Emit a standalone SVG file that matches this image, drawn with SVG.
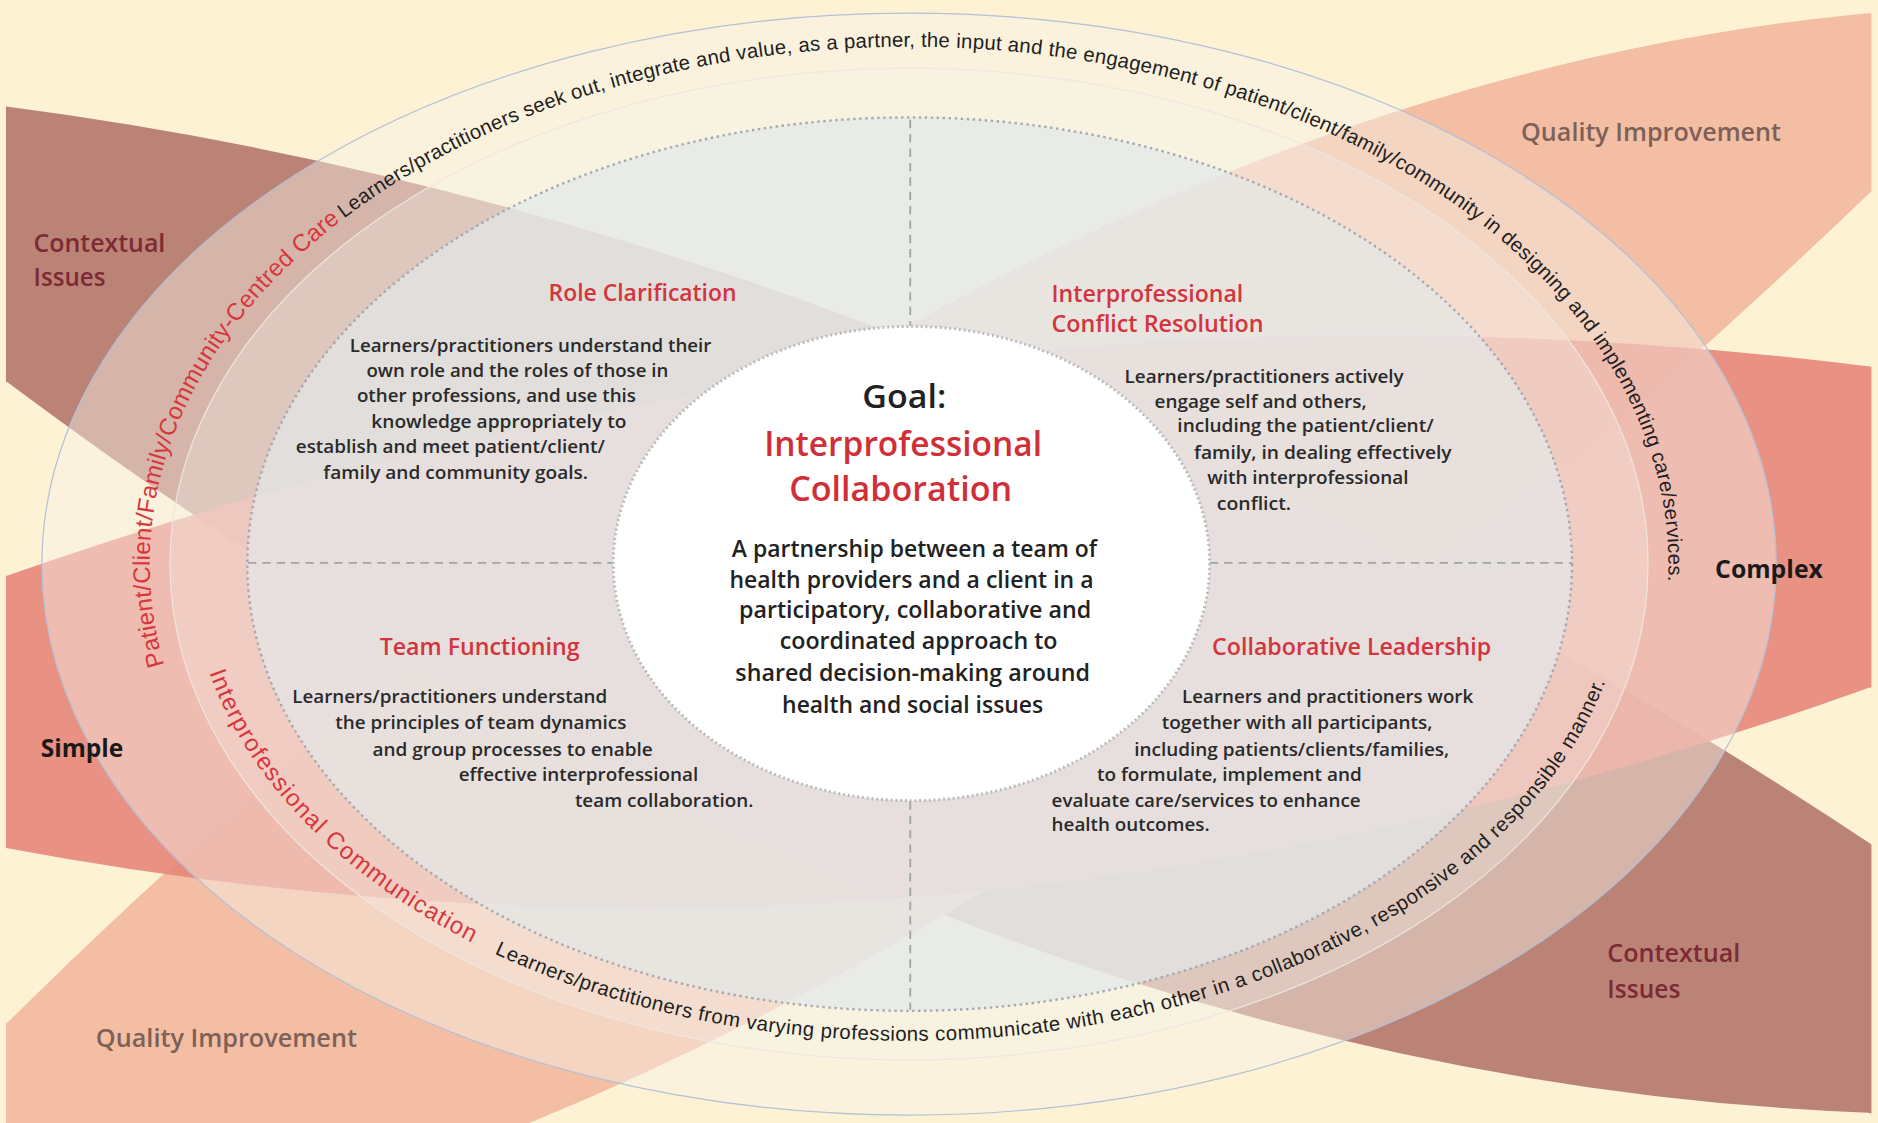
<svg xmlns="http://www.w3.org/2000/svg" width="1878" height="1123" viewBox="0 0 1878 1123">
<defs>
<style>
.bg{fill:#fdf3d4}
.brown{fill:#b67a6e;opacity:.93}
.salmon{fill:#f2b99f;opacity:.93}
.red{fill:#e7867a;opacity:.9}
.e1{fill:#f7f1e8;fill-opacity:.45;stroke:#b3c0d6;stroke-width:1}
.e2{fill:#f6f2ec;fill-opacity:.3;stroke:#efe6df;stroke-width:1}
.e4{fill:#e3e8ea;fill-opacity:.7;stroke:#a3a9b3;stroke-width:2;stroke-dasharray:2 3}
.e5{fill:#ffffff;stroke:#b8b8b8;stroke-width:2.5;stroke-dasharray:1.5 2.5}
.cross{stroke:#9fa4ab;stroke-width:1.5;stroke-dasharray:7 5;fill:none}
.lbl{font-family:'Open Sans','Liberation Sans',sans-serif;font-size:21px;font-weight:600}
.ctx{fill:#7c2a35}
.qi{fill:#7d6158}
.cx{fill:#1a1a1a;font-weight:bold}
.head{font-family:'Open Sans','Liberation Sans',sans-serif;font-size:19px;fill:#d4343c;font-weight:600}
.p{font-family:'Open Sans','Liberation Sans',sans-serif;font-size:15px;fill:#2a2a2a;font-weight:600}
.gp{font-family:'Open Sans','Liberation Sans',sans-serif;font-size:19px;fill:#222;font-weight:600}
.goal{font-family:'Open Sans','Liberation Sans',sans-serif;fill:#222;font-size:27px;font-weight:600}
.goalr{font-family:'Open Sans','Liberation Sans',sans-serif;fill:#d02f38;font-size:29px;font-weight:600}
.ringRed{font-family:'Liberation Sans',Arial,sans-serif;font-size:20px;fill:#d9353d}
.ringBlk{font-family:'Liberation Sans',Arial,sans-serif;font-size:17px;fill:#1e1e1e}
</style>
<clipPath id="clip"><rect x="5" y="0" width="1557.5" height="945"/></clipPath>
<path id="pcPath" d="M759,903 A634,432 0 0 1 759,39 A634,432 0 0 1 759,903"/>
<path id="icPath" d="M759,73 A600,398 0 0 0 759,869 A600,398 0 0 0 759,73"/>
</defs>
<rect class="bg" x="0" y="0" width="1878" height="1123"/>
<g transform="scale(1.1977)">
  <g id="bands" clip-path="url(#clip)">
    <path id="band-contextual" class="brown" d="M0,89 L5,89 Q786,190 1567,708 L1570,708 L1570,932 L1560,929 Q783,900 6,319 L0,319 Z"/>
    <path id="band-quality" class="salmon" d="M0,854 L6,854 Q782,85 1559,11 L1570,11 L1570,160 L1562,160 Q984,716 441,938 L441,945 L0,945 Z"/>
    <path id="band-complexity" class="red" d="M0,481 L5,481 Q783,208 1561,306 L1570,306 L1570,574 L1561,574 Q783,854 5,708 L0,708 Z"/>
  </g>

  <g id="rings">
    <ellipse id="ring-outer" class="e1" cx="759" cy="471" rx="724" ry="460"/>
    <ellipse id="ring-communication" class="e2" cx="759" cy="471" rx="617" ry="414"/>
    <ellipse id="domains" class="e4" cx="759.5" cy="471" rx="553" ry="373"/>
  </g>

  <g id="band-labels">
    <text class="lbl ctx" x="28" y="210" textLength="110" lengthAdjust="spacingAndGlyphs">Contextual</text>
    <text class="lbl ctx" x="28" y="239" textLength="60" lengthAdjust="spacingAndGlyphs">Issues</text>
    <text class="lbl qi" x="1270" y="118" textLength="217" lengthAdjust="spacingAndGlyphs">Quality Improvement</text>
    <text class="lbl cx" x="1432" y="483" textLength="90" lengthAdjust="spacingAndGlyphs">Complex</text>
    <text class="lbl cx" x="34" y="632" textLength="69" lengthAdjust="spacingAndGlyphs">Simple</text>
    <text class="lbl qi" x="80" y="874" textLength="218" lengthAdjust="spacingAndGlyphs">Quality Improvement</text>
    <text class="lbl ctx" x="1342" y="803" textLength="111" lengthAdjust="spacingAndGlyphs">Contextual</text>
    <text class="lbl ctx" x="1342" y="833" textLength="61" lengthAdjust="spacingAndGlyphs">Issues</text>
  </g>

  <g id="connectors">
    <line class="cross" x1="760" y1="100" x2="760" y2="272"/>
    <line class="cross" x1="760" y1="669" x2="760" y2="843"/>
    <line class="cross" x1="207" y1="470" x2="512" y2="470"/>
    <line class="cross" x1="1010" y1="470" x2="1312" y2="470"/>
  </g>

  <g id="ring-texts">
    <text class="ringRed" letter-spacing="0.2"><textPath href="#pcPath" startOffset="759">Patient/Client/Family/Community-Centred Care</textPath></text>
    <text class="ringBlk" letter-spacing="0.22"><textPath href="#pcPath" startOffset="1188">Learners/practitioners seek out, integrate and value, as a partner, the input and the engagement of patient/client/family/community in designing and implementing care/services.</textPath></text>
    <text class="ringRed" letter-spacing="1"><textPath href="#icPath" startOffset="884">Interprofessional Communication</textPath></text>
    <text class="ringBlk" letter-spacing="0.4"><textPath href="#icPath" startOffset="1227">Learners/practitioners from varying professions communicate with each other in a collaborative, responsive and responsible manner.</textPath></text>
  </g>

  <g id="role-clarification">
    <text class="head" x="458" y="251" textLength="157" lengthAdjust="spacingAndGlyphs">Role Clarification</text>
    <text class="p" x="292" y="294" textLength="302" lengthAdjust="spacingAndGlyphs">Learners/practitioners understand their</text>
    <text class="p" x="306" y="315" textLength="252" lengthAdjust="spacingAndGlyphs">own role and the roles of those in</text>
    <text class="p" x="298" y="336" textLength="233" lengthAdjust="spacingAndGlyphs">other professions, and use this</text>
    <text class="p" x="310" y="357" textLength="213" lengthAdjust="spacingAndGlyphs">knowledge appropriately to</text>
    <text class="p" x="247" y="378" textLength="258" lengthAdjust="spacingAndGlyphs">establish and meet patient/client/</text>
    <text class="p" x="270" y="400" textLength="221" lengthAdjust="spacingAndGlyphs">family and community goals.</text>
  </g>

  <g id="conflict-resolution">
    <text class="head" x="878" y="252" textLength="160" lengthAdjust="spacingAndGlyphs">Interprofessional</text>
    <text class="head" x="878" y="277" textLength="177" lengthAdjust="spacingAndGlyphs">Conflict Resolution</text>
    <text class="p" x="939" y="320" textLength="233" lengthAdjust="spacingAndGlyphs">Learners/practitioners actively</text>
    <text class="p" x="964" y="341" textLength="177" lengthAdjust="spacingAndGlyphs">engage self and others,</text>
    <text class="p" x="983" y="361" textLength="214" lengthAdjust="spacingAndGlyphs">including the patient/client/</text>
    <text class="p" x="997" y="383" textLength="215" lengthAdjust="spacingAndGlyphs">family, in dealing effectively</text>
    <text class="p" x="1008" y="404" textLength="168" lengthAdjust="spacingAndGlyphs">with interprofessional</text>
    <text class="p" x="1016" y="426" textLength="62" lengthAdjust="spacingAndGlyphs">conflict.</text>
  </g>

  <g id="team-functioning">
    <text class="head" x="317" y="547" textLength="167" lengthAdjust="spacingAndGlyphs">Team Functioning</text>
    <text class="p" x="244" y="587" textLength="263" lengthAdjust="spacingAndGlyphs">Learners/practitioners understand</text>
    <text class="p" x="280" y="609" textLength="243" lengthAdjust="spacingAndGlyphs">the principles of team dynamics</text>
    <text class="p" x="311" y="631" textLength="234" lengthAdjust="spacingAndGlyphs">and group processes to enable</text>
    <text class="p" x="383" y="652" textLength="200" lengthAdjust="spacingAndGlyphs">effective interprofessional</text>
    <text class="p" x="480" y="674" textLength="149" lengthAdjust="spacingAndGlyphs">team collaboration.</text>
  </g>

  <g id="collaborative-leadership">
    <text class="head" x="1012" y="547" textLength="233" lengthAdjust="spacingAndGlyphs">Collaborative Leadership</text>
    <text class="p" x="987" y="587" textLength="243" lengthAdjust="spacingAndGlyphs">Learners and practitioners work</text>
    <text class="p" x="970" y="609" textLength="226" lengthAdjust="spacingAndGlyphs">together with all participants,</text>
    <text class="p" x="947" y="631" textLength="263" lengthAdjust="spacingAndGlyphs">including patients/clients/families,</text>
    <text class="p" x="916" y="652" textLength="221" lengthAdjust="spacingAndGlyphs">to formulate, implement and</text>
    <text class="p" x="878" y="674" textLength="258" lengthAdjust="spacingAndGlyphs">evaluate care/services to enhance</text>
    <text class="p" x="878" y="694" textLength="132" lengthAdjust="spacingAndGlyphs">health outcomes.</text>
  </g>

  <g id="goal">
    <ellipse class="e5" cx="761" cy="470.5" rx="249" ry="198"/>
    <text class="goal" x="720" y="341" textLength="70" lengthAdjust="spacingAndGlyphs">Goal:</text>
    <text class="goalr" x="638" y="381" textLength="232" lengthAdjust="spacingAndGlyphs">Interprofessional</text>
    <text class="goalr" x="659" y="418" textLength="186" lengthAdjust="spacingAndGlyphs">Collaboration</text>
    <text class="gp" x="611" y="465" textLength="305" lengthAdjust="spacingAndGlyphs">A partnership between a team of</text>
    <text class="gp" x="609" y="491" textLength="304" lengthAdjust="spacingAndGlyphs">health providers and a client in a</text>
    <text class="gp" x="617" y="516" textLength="294" lengthAdjust="spacingAndGlyphs">participatory, collaborative and</text>
    <text class="gp" x="651" y="542" textLength="232" lengthAdjust="spacingAndGlyphs">coordinated approach to</text>
    <text class="gp" x="614" y="569" textLength="296" lengthAdjust="spacingAndGlyphs">shared decision-making around</text>
    <text class="gp" x="653" y="595" textLength="218" lengthAdjust="spacingAndGlyphs">health and social issues</text>
  </g>
</g>
</svg>
